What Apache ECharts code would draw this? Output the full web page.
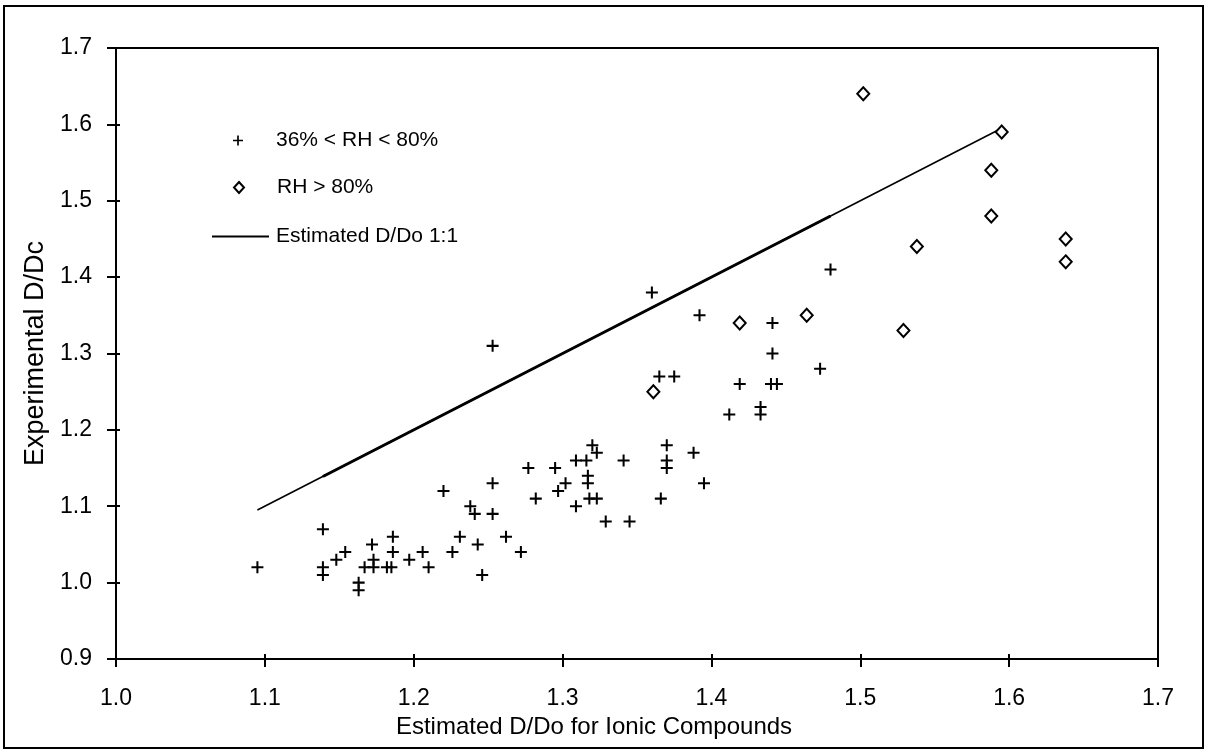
<!DOCTYPE html>
<html>
<head>
<meta charset="utf-8">
<script src="https://cdn.jsdelivr.net/npm/echarts@6/dist/echarts.min.js"></script>
<style>
html,body{margin:0;padding:0;background:#fff;}
#chart{width:1207px;height:753px;}
</style>
</head>
<body>
<div id="chart"></div>
<script>
// ---- data ----
const midRH = [
  [1.095,1.02],[1.139,1.07],[1.139,1.02],[1.139,1.01],[1.148,1.03],[1.154,1.04],
  [1.163,1.00],[1.163,0.99],[1.167,1.02],[1.172,1.05],[1.173,1.03],[1.173,1.02],
  [1.182,1.02],[1.185,1.02],[1.186,1.06],[1.186,1.04],[1.197,1.03],[1.206,1.04],
  [1.210,1.02],[1.220,1.12],[1.226,1.04],[1.231,1.06],[1.238,1.10],[1.241,1.09],
  [1.243,1.05],[1.246,1.01],[1.253,1.13],[1.253,1.09],[1.253,1.31],[1.262,1.06],
  [1.272,1.04],[1.277,1.15],[1.282,1.11],[1.295,1.15],[1.297,1.12],[1.302,1.13],
  [1.309,1.16],[1.316,1.16],[1.309,1.10],[1.317,1.14],[1.317,1.13],[1.318,1.11],
  [1.323,1.11],[1.320,1.18],[1.323,1.17],[1.329,1.08],[1.341,1.16],[1.345,1.08],
  [1.360,1.38],[1.365,1.27],[1.366,1.11],[1.370,1.18],[1.370,1.16],[1.370,1.15],
  [1.375,1.27],[1.388,1.17],[1.392,1.35],[1.395,1.13],[1.412,1.22],[1.419,1.26],
  [1.433,1.23],[1.433,1.22],[1.440,1.26],[1.441,1.34],[1.441,1.30],[1.444,1.26],
  [1.473,1.28],[1.480,1.41]
];
const highRH = [
  [1.361,1.25],[1.419,1.34],[1.464,1.35],[1.502,1.64],[1.529,1.33],[1.538,1.44],
  [1.588,1.54],[1.588,1.48],[1.595,1.59],[1.638,1.45],[1.638,1.42]
];
const oneToOne = [[1.095,1.095],[1.595,1.595]];
const oneToOneDense = [[1.139,1.139],[1.48,1.48]];
const seriesNames = ['36% < RH < 80%','RH > 80%','Estimated D/Do 1:1'];
const xTitle = 'Estimated D/Do for Ionic Compounds';
const yTitle = 'Experimental D/Dc';

const FONT = '"Liberation Sans", Arial, sans-serif';
const PLUS = 'path://M8.3,0H11.7V8.3H20V11.7H11.7V20H8.3V11.7H0V8.3H8.3Z';
const fmt = v => v.toFixed(1);

const chart = echarts.init(document.getElementById('chart'), null, {renderer:'canvas'});
const axisBase = (min, max) => ({type:'value', min:min, max:max, interval:0.1, splitLine:{show:false}});

chart.setOption({
  backgroundColor:'#fff',
  animation:false,
  grid:{left:116, top:48, right:49, bottom:94, show:true, borderColor:'#000', borderWidth:2, backgroundColor:'transparent'},
  graphic:[{type:'rect', silent:true, shape:{x:4, y:6, width:1199, height:742}, style:{fill:'none', stroke:'#000', lineWidth:2}}],
  legend:[
    {data:[seriesNames[0]], left:233, top:130, padding:0, itemWidth:10, itemHeight:10, icon:PLUS,
     textStyle:{fontFamily:FONT, fontSize:21, color:'#000', padding:[0,0,0,28]}},
    {data:[seriesNames[1]], left:233, top:177, padding:0, itemWidth:10, itemHeight:11,
     textStyle:{fontFamily:FONT, fontSize:21, color:'#000', padding:[0,0,0,28]}},
    {data:[seriesNames[2]], left:212, top:226, padding:0, itemWidth:57, itemHeight:2, icon:'rect',
     itemStyle:{color:'#000'},
     textStyle:{fontFamily:FONT, fontSize:21, color:'#000', padding:[0,0,0,2]}}
  ],
  xAxis:[
    Object.assign(axisBase(1.0,1.7), {
      position:'bottom',
      axisLine:{show:true, lineStyle:{color:'#000', width:2}},
      axisTick:{show:true, inside:false, length:8, lineStyle:{color:'#000', width:2}},
      axisLabel:{show:true, formatter:fmt, margin:28, color:'#000', fontFamily:FONT, fontSize:23, showMinLabel:true, showMaxLabel:true},
      name:xTitle, nameLocation:'middle', nameGap:43,
      nameTextStyle:{fontFamily:FONT, fontSize:24, color:'#000', padding:[0,86,0,0]}
    }),
    Object.assign(axisBase(1.0,1.7), {
      position:'bottom',
      axisLine:{show:false},
      axisTick:{show:true, inside:true, length:5, lineStyle:{color:'#000', width:2}},
      axisLabel:{show:false}
    })
  ],
  yAxis:[
    Object.assign(axisBase(0.9,1.7), {
      position:'left',
      axisLine:{show:true, lineStyle:{color:'#000', width:2}},
      axisTick:{show:true, inside:false, length:9, lineStyle:{color:'#000', width:2}},
      axisLabel:{show:true, formatter:fmt, margin:24, color:'#000', fontFamily:FONT, fontSize:23, showMinLabel:true, showMaxLabel:true},
      name:yTitle, nameLocation:'middle', nameGap:64, nameRotate:90,
      nameTextStyle:{fontFamily:FONT, fontSize:27, color:'#000'}
    }),
    Object.assign(axisBase(0.9,1.7), {
      position:'left',
      axisLine:{show:false},
      axisTick:{show:true, inside:true, length:4, lineStyle:{color:'#000', width:2}},
      axisLabel:{show:false}
    })
  ],
  series:[
    {name:seriesNames[2], type:'line', data:oneToOne, symbol:'none', xAxisIndex:0, yAxisIndex:0,
     lineStyle:{color:'#000', width:1.6}, itemStyle:{color:'#000'}, z:2},
    {name:'dense', type:'line', data:oneToOneDense, symbol:'none', xAxisIndex:0, yAxisIndex:0,
     lineStyle:{color:'#000', width:3}, z:2},
    {name:seriesNames[0], type:'scatter', data:midRH, symbol:PLUS, symbolSize:12, xAxisIndex:0, yAxisIndex:0,
     itemStyle:{color:'#000', opacity:1}, z:3},
    {name:seriesNames[1], type:'scatter', data:highRH, symbol:'diamond', symbolSize:[12,13], xAxisIndex:0, yAxisIndex:0,
     itemStyle:{color:'#fff', borderColor:'#000', borderWidth:2, opacity:1}, z:3}
  ]
});
</script>
</body>
</html>
